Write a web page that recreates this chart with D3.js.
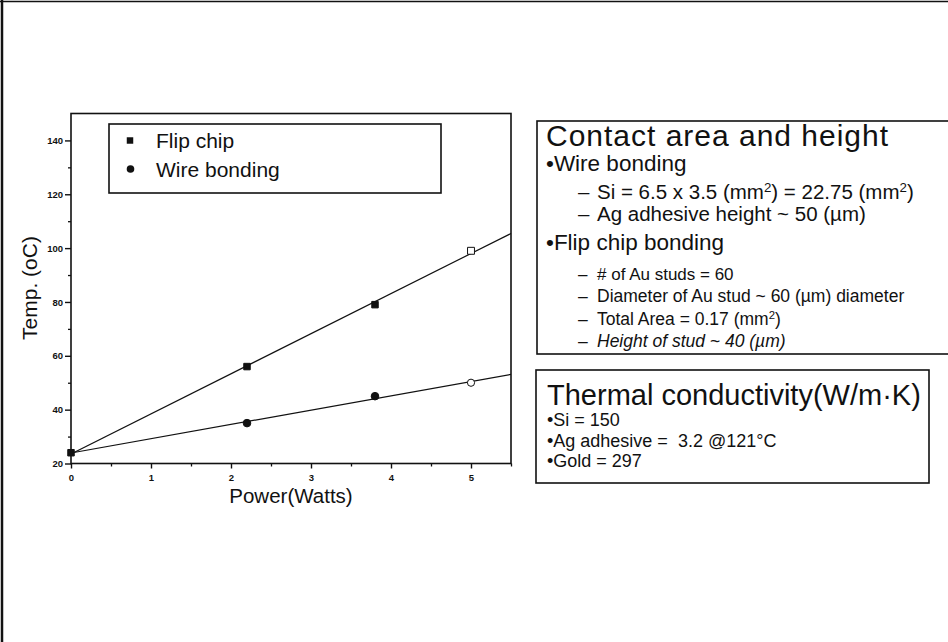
<!DOCTYPE html>
<html>
<head>
<meta charset="utf-8">
<script src="https://cdn.jsdelivr.net/npm/d3@7"></script>
<style>
  html, body { margin: 0; padding: 0; background: #fff; }
  svg { display: block; font-family: "Liberation Sans", Arial, Helvetica, sans-serif; }
</style>
</head>
<body>
<svg id="chart" width="948" height="642"></svg>
<script>
// ---- data ----
const power = [0, 2.2, 3.8, 5];
const flipChipTemp = [24, 56, 79, 99];
const wireBondTemp = [24, 35, 45, 50];
const xTicks = [0, 1, 2, 3, 4, 5];
const yTicks = [20, 40, 60, 80, 100, 120, 140];
const seriesNames = ["Flip chip", "Wire bonding"];
const xTitle = "Power(Watts)";
const yTitle = "Temp. (oC)";
const contactTitle = "Contact area and height";
const wireHead = "\u2022Wire bonding";
const flipHead = "\u2022Flip chip bonding";
const thermalTitle = "Thermal conductivity(W/m\u00B7K)";
const thermalItems = ["\u2022Si = 150", "\u2022Ag adhesive =  3.2 @121\u00B0C", "\u2022Gold = 297"];

const svg = d3.select("#chart");
svg.append("rect").attr("width", 948).attr("height", 642).attr("fill", "#fff");

// page frame (scan edges)
svg.append("line").attr("x1", 0).attr("x2", 948).attr("y1", 1.5).attr("y2", 1.5)
  .attr("stroke", "#111").attr("stroke-width", 1.5);
svg.append("line").attr("x1", 2).attr("x2", 2).attr("y1", 0).attr("y2", 642)
  .attr("stroke", "#111").attr("stroke-width", 2.5);

// ---- scales ----
const x = d3.scaleLinear().domain([0, 5.5]).range([71, 511]);
const y = d3.scaleLinear().domain([20, 150]).range([463.5, 113.5]);

const g = svg.append("g");

// minor ticks
const xMinor = d3.range(0.5, 5.51, 1);
const yMinor = d3.range(30, 150, 20);
g.append("g").attr("transform", `translate(0,${y(20)})`)
  .call(d3.axisBottom(x).tickValues(xMinor).tickSize(3).tickFormat(""))
  .call(s => s.select(".domain").remove())
  .call(s => s.selectAll("line").attr("stroke", "#111").attr("stroke-width", 1.3));
g.append("g").attr("transform", `translate(${x(0)},0)`)
  .call(d3.axisLeft(y).tickValues(yMinor).tickSize(3).tickFormat(""))
  .call(s => s.select(".domain").remove())
  .call(s => s.selectAll("line").attr("stroke", "#111").attr("stroke-width", 1.3));

// major axes
const xa = g.append("g").attr("transform", `translate(0,${y(20)})`)
  .call(d3.axisBottom(x).tickValues(xTicks).tickSize(5).tickPadding(6).tickFormat(d3.format("d")));
const ya = g.append("g").attr("transform", `translate(${x(0)},0)`)
  .call(d3.axisLeft(y).tickValues(yTicks).tickSize(6).tickPadding(2).tickFormat(d3.format("d")));
[xa, ya].forEach(a => {
  a.select(".domain").remove();
  a.selectAll("line").attr("stroke", "#111").attr("stroke-width", 1.4);
  a.selectAll("text").attr("fill", "#111").attr("font-size", 9.5).attr("font-weight", "bold")
    .attr("font-family", "'Liberation Sans', Arial, sans-serif");
});

// plot frame
g.append("rect")
  .attr("x", x(0)).attr("y", y(150))
  .attr("width", x(5.5) - x(0)).attr("height", y(20) - y(150))
  .attr("fill", "none").attr("stroke", "#111").attr("stroke-width", 1.6);

// linear fits through the data
function fit(xs, ys) {
  const mx = d3.mean(xs), my = d3.mean(ys);
  let sxy = 0, sxx = 0;
  xs.forEach((v, i) => { sxy += (v - mx) * (ys[i] - my); sxx += (v - mx) * (v - mx); });
  const b = sxy / sxx;
  return { a: my - b * mx, b };
}
const line = d3.line().x(d => x(d[0])).y(d => y(d[1]));
[flipChipTemp, wireBondTemp].forEach(vals => {
  const f = fit(power, vals);
  const ends = x.domain().map(v => [v, f.a + f.b * v]);
  g.append("path").attr("d", line(ends)).attr("fill", "none")
    .attr("stroke", "#111").attr("stroke-width", 1.2);
});

// markers
const sq = d3.symbol().type(d3.symbolSquare).size(42);
const sqOpen = d3.symbol().type(d3.symbolSquare).size(48);
const n = power.length;
// wire bonding: filled circles, last hollow
power.forEach((p, i) => {
  if (i === 0) return;
  g.append("circle").attr("cx", x(p)).attr("cy", y(wireBondTemp[i])).attr("r", i === n - 1 ? 3.6 : 3.8)
    .attr("fill", i === n - 1 ? "#fff" : "#111").attr("stroke", "#111").attr("stroke-width", 1);
});
// flip chip: filled squares, last hollow
power.forEach((p, i) => {
  const open = i === n - 1;
  g.append("path").attr("d", open ? sqOpen() : sq())
    .attr("transform", `translate(${x(p)},${y(flipChipTemp[i])})`)
    .attr("fill", open ? "#fff" : "#111").attr("stroke", "#111").attr("stroke-width", 1);
});

// legend
const lg = svg.append("g");
lg.append("rect").attr("x", 109).attr("y", 124).attr("width", 332).attr("height", 69)
  .attr("fill", "#fff").attr("stroke", "#111").attr("stroke-width", 1.6);
lg.append("path").attr("d", sq()).attr("transform", "translate(130,140.5)").attr("fill", "#111");
lg.append("circle").attr("cx", 130.5).attr("cy", 169).attr("r", 3.8).attr("fill", "#111");
lg.append("text").attr("x", 156).attr("y", 148).attr("font-size", 21).attr("fill", "#111").text(seriesNames[0]);
lg.append("text").attr("x", 156).attr("y", 177).attr("font-size", 21).attr("fill", "#111").text(seriesNames[1]);

// axis titles
svg.append("text").attr("x", 291).attr("y", 503).attr("text-anchor", "middle")
  .attr("font-size", 20.5).attr("fill", "#111").text(xTitle);
svg.append("text").attr("transform", "translate(37,288) rotate(-90)").attr("text-anchor", "middle")
  .attr("font-size", 21).attr("fill", "#111").text(yTitle);

// ---- right panel: contact area ----
const p1 = svg.append("g");
p1.append("rect").attr("x", 537).attr("y", 121).attr("width", 430).attr("height", 233)
  .attr("fill", "#fff").attr("stroke", "#111").attr("stroke-width", 1.6);
p1.append("text").attr("x", 546).attr("y", 146).attr("font-size", 30).attr("fill", "#111")
  .attr("textLength", 342).attr("lengthAdjust", "spacing").text(contactTitle);
p1.append("text").attr("x", 546).attr("y", 171).attr("font-size", 22.5).attr("fill", "#111").text(wireHead);
p1.append("text").attr("x", 546).attr("y", 250).attr("font-size", 22.5).attr("fill", "#111").text(flipHead);

function dashLine(yb, size, parts, italic) {
  p1.append("text").attr("x", 578).attr("y", yb).attr("font-size", size).attr("fill", "#111").text("\u2013");
  const t = p1.append("text").attr("x", 597).attr("y", yb).attr("font-size", size).attr("fill", "#111")
    .attr("font-style", italic ? "italic" : "normal");
  parts.forEach(pt => {
    if (pt.sup) {
      t.append("tspan").attr("baseline-shift", "super").attr("font-size", size * 0.65).text(pt.sup);
    } else {
      t.append("tspan").text(pt.t);
    }
  });
}
dashLine(199, 20.5, [{t: "Si = 6.5 x 3.5 (mm"}, {sup: "2"}, {t: ") = 22.75 (mm"}, {sup: "2"}, {t: ")"}]);
dashLine(221, 20.5, [{t: "Ag adhesive height ~ 50 (\u00B5m)"}]);
dashLine(280, 17, [{t: "# of Au studs = 60"}]);
dashLine(302, 17.5, [{t: "Diameter of Au stud ~ 60 (\u00B5m) diameter"}]);
dashLine(325, 17.5, [{t: "Total Area = 0.17 (mm"}, {sup: "2"}, {t: ")"}]);
dashLine(347, 17.5, [{t: "Height of stud ~ 40 (\u00B5m)"}], true);

// ---- right panel: thermal conductivity ----
const p2 = svg.append("g");
p2.append("rect").attr("x", 536).attr("y", 370).attr("width", 393).attr("height", 113)
  .attr("fill", "#fff").attr("stroke", "#111").attr("stroke-width", 1.6);
p2.append("text").attr("x", 547).attr("y", 405).attr("font-size", 29).attr("fill", "#111").text(thermalTitle);
thermalItems.forEach((s, i) => {
  p2.append("text").attr("x", 547).attr("y", 426 + i * 20.5).attr("font-size", 18).attr("fill", "#111")
    .attr("xml:space", "preserve").style("white-space", "pre").text(s);
});
</script>
</body>
</html>
